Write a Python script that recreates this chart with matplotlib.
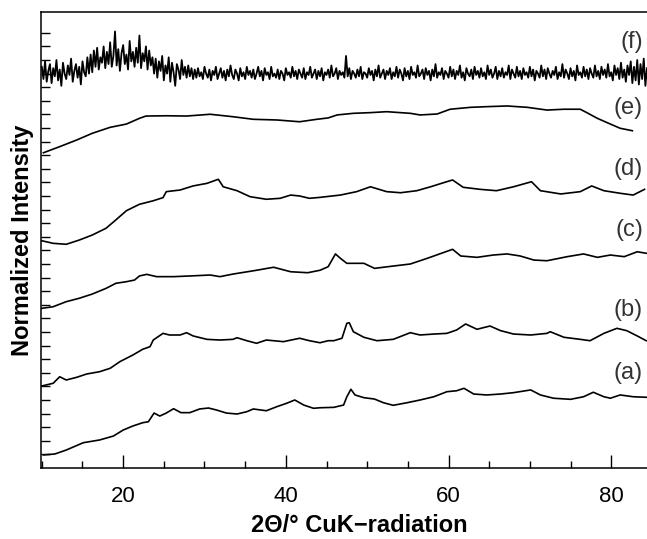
import numpy as np
import matplotlib
matplotlib.use("Agg")
import matplotlib.pyplot as plt
from matplotlib.ticker import MultipleLocator

plt.rcParams['font.family'] = ['Liberation Sans', 'DejaVu Sans']

# XRD patterns, already offset vertically (units = one y tick)
tt_a = [10.2, 11.6, 13.0, 15.1, 17.1, 18.8, 20.0, 21.2, 22.4, 23.1, 23.8, 24.5, 25.3, 26.2,
        27.1, 28.2, 29.4, 30.5, 31.5, 32.7, 34.0, 35.2, 36.0, 37.6, 38.9, 40.1, 41.1, 42.2,
        43.4, 44.2, 45.9, 47.1, 47.5, 48.0, 48.5, 49.6, 50.9, 52.0, 53.2, 54.9, 56.5, 58.2,
        59.8, 61.0, 61.9, 63.1, 64.7, 66.4, 68.0, 70.1, 71.3, 72.9, 75.0, 76.6, 77.8, 79.1,
        79.9, 81.1, 82.7, 84.3]
int_a = [0.96, 1.03, 1.32, 1.86, 2.06, 2.35, 2.79, 3.09, 3.33, 3.40, 4.04, 3.82, 4.04, 4.36,
         4.07, 4.07, 4.34, 4.41, 4.26, 4.04, 3.97, 4.14, 4.34, 4.21, 4.51, 4.76, 5.00, 4.63,
         4.39, 4.43, 4.46, 4.63, 5.24, 5.79, 5.37, 5.17, 5.07, 4.80, 4.61, 4.80, 5.00, 5.24,
         5.61, 5.68, 5.86, 5.44, 5.37, 5.44, 5.54, 5.74, 5.37, 5.13, 5.05, 5.24, 5.57, 5.24,
         5.13, 5.37, 5.24, 5.20]

tt_b = [10.0, 11.4, 12.2, 13.0, 14.3, 15.5, 17.1, 18.4, 19.6, 21.2, 22.4, 23.3, 23.7, 24.9,
        25.7, 27.0, 27.8, 28.6, 30.3, 31.9, 33.5, 34.0, 35.2, 36.4, 37.6, 39.7, 41.7, 42.9,
        44.2, 45.2, 45.9, 46.9, 47.5, 47.8, 48.3, 49.6, 51.2, 53.2, 55.3, 56.5, 58.2, 59.8,
        61.0, 62.1, 63.5, 65.1, 66.4, 68.0, 70.1, 72.1, 72.5, 74.2, 76.2, 77.4, 79.1, 80.7,
        81.9, 83.2, 84.3]
int_b = [6.03, 6.23, 6.71, 6.47, 6.67, 6.91, 7.08, 7.33, 7.82, 8.31, 8.73, 8.92, 9.41, 9.90,
         9.78, 9.78, 9.95, 9.71, 9.46, 9.41, 9.46, 9.58, 9.36, 9.17, 9.41, 9.29, 9.54, 9.36,
         9.21, 9.36, 9.36, 9.54, 10.64, 10.68, 10.02, 9.61, 9.36, 9.46, 9.95, 9.78, 9.85, 9.90,
         10.15, 10.59, 10.20, 10.44, 10.10, 9.85, 9.78, 9.90, 10.02, 9.61, 9.46, 9.36, 9.90, 10.27,
         10.10, 9.71, 9.36]

tt_c = [10.0, 11.4, 13.0, 14.6, 16.2, 17.9, 19.1, 20.4, 21.4, 22.0, 22.9, 24.1, 26.2, 28.2,
        30.7, 31.9, 33.5, 36.1, 38.5, 40.6, 42.7, 44.2, 45.2, 46.1, 46.7, 47.5, 49.6, 50.9,
        53.2, 55.3, 57.4, 58.9, 60.5, 61.5, 63.5, 65.5, 67.2, 68.8, 70.5, 72.1, 74.6, 76.6,
        78.3, 79.9, 81.6, 83.2, 84.3]
int_c = [11.74, 11.86, 12.23, 12.48, 12.79, 13.21, 13.58, 13.70, 13.82, 14.12, 14.24, 14.07, 14.07, 14.12,
         14.19, 14.07, 14.26, 14.51, 14.76, 14.43, 14.36, 14.54, 14.80, 15.74, 15.42, 15.05, 15.05, 14.68,
         14.85, 15.00, 15.42, 15.74, 16.08, 15.59, 15.49, 15.66, 15.74, 15.59, 15.29, 15.24, 15.54, 15.74,
         15.49, 15.66, 15.54, 15.90, 15.79]

tt_d = [10.0, 11.4, 13.0, 14.6, 16.2, 17.9, 19.1, 20.4, 22.0, 23.7, 24.9, 25.3, 27.0, 28.6,
        30.3, 31.7, 32.3, 34.0, 35.6, 37.6, 39.3, 40.6, 41.7, 42.9, 44.2, 46.7, 48.7, 50.4,
        52.4, 54.1, 56.1, 57.8, 59.4, 60.5, 61.8, 63.9, 65.9, 68.0, 70.2, 71.3, 73.8, 76.2,
        77.6, 79.1, 81.1, 82.7, 84.1]
int_d = [16.71, 16.52, 16.45, 16.76, 17.13, 17.63, 18.24, 18.92, 19.39, 19.65, 19.88, 20.32, 20.44, 20.74,
         20.93, 21.23, 20.68, 20.39, 19.95, 19.76, 19.83, 20.07, 20.00, 19.83, 19.90, 20.07, 20.32, 20.68,
         20.32, 20.24, 20.39, 20.68, 20.98, 21.18, 20.64, 20.49, 20.39, 20.68, 21.05, 20.39, 20.15, 20.32,
         20.74, 20.39, 20.20, 20.07, 20.49]

tt_e = [10.2, 12.2, 14.3, 16.2, 18.4, 20.4, 22.0, 22.8, 25.3, 27.8, 30.7, 33.5, 36.0, 38.9,
        41.7, 43.8, 45.2, 46.3, 48.3, 50.4, 52.4, 55.3, 56.5, 58.6, 60.2, 62.7, 64.7, 67.2,
        69.7, 72.1, 74.2, 76.2, 77.0, 78.3, 79.9, 81.1, 82.6]
int_e = [23.18, 23.63, 24.12, 24.61, 25.05, 25.29, 25.71, 25.88, 25.90, 25.88, 26.01, 25.83, 25.64, 25.59,
         25.46, 25.64, 25.74, 25.96, 26.08, 26.13, 26.20, 26.08, 25.96, 26.03, 26.38, 26.52, 26.57, 26.62,
         26.52, 26.32, 26.38, 26.38, 26.13, 25.71, 25.29, 24.98, 24.80]

# (f) is noisy, read every 0.2 deg starting at 10 deg
f_start, f_step = 10.0, 0.2
int_f = [
    # 10 - 15.8
    29.5, 28.6, 29.9, 28.4, 29.2, 29.7, 28.3, 29.4, 28.8, 30.0,
    28.5, 29.3, 28.1, 29.8, 29.0, 28.6, 29.6, 28.9, 30.1, 28.4,
    29.2, 29.7, 28.7, 29.5, 28.2, 29.9, 29.1, 28.8, 30.2, 29.0,
    # 16 - 23.8
    30.4, 29.1, 30.7, 29.5, 30.9, 29.3, 30.2, 29.8, 31.0, 29.4,
    30.6, 29.7, 31.3, 29.5, 30.3, 32.1, 29.6, 30.8, 29.2, 30.5,
    31.1, 29.7, 30.4, 29.3, 31.4, 29.9, 30.6, 29.5, 30.9, 29.8,
    31.8, 29.4, 30.5, 29.9, 31.0, 29.3, 30.7, 29.6, 30.2, 29.0,
    # 24 - 28.8
    30.1, 28.7, 29.9, 29.2, 30.3, 28.5, 29.6, 29.0, 30.2, 28.4,
    29.8, 29.1, 28.1, 29.7, 29.3, 28.6, 30.0, 28.9, 29.5, 28.7,
    29.6, 28.8, 29.4, 28.6, 29.3,
    # 29 - 84.4
    28.7, 29.4, 28.8, 29.1, 28.6, 29.5, 29.0, 28.7, 29.3, 28.5,
    29.2, 28.9, 29.5, 28.6, 29.0, 29.4, 28.7, 29.2, 28.5, 29.3,
    28.8, 29.6, 28.9, 28.6, 29.3, 29.0, 28.5, 29.4, 28.8, 29.1,
    28.6, 29.5, 28.9, 29.2, 28.7, 29.3, 28.6, 29.0, 29.5, 28.8,
    29.2, 28.5, 29.4, 28.9, 29.1, 28.6, 29.5, 28.8, 29.0, 28.7,
    29.3, 28.6, 29.2, 29.0, 28.5, 29.4, 28.9, 29.1, 28.7, 29.5,
    28.8, 29.2, 28.6, 29.3, 29.0, 28.7, 29.4, 28.6, 29.1, 28.9,
    29.5, 28.7, 29.0, 29.3, 28.6, 29.2, 28.8, 29.4, 28.5, 29.1,
    28.9, 29.3, 28.7, 29.6, 28.8, 29.0, 29.4, 28.6, 29.2, 28.9,
    29.1, 28.7, 30.3, 28.8, 29.4, 28.6, 29.2, 29.0, 28.7, 29.3,
    28.8, 29.5, 28.6, 29.1, 29.0, 28.7, 29.4, 28.9, 29.2, 28.5,
    29.3, 28.8, 29.6, 28.7, 29.0, 29.3, 28.6, 29.2, 28.9, 29.4,
    28.6, 29.1, 28.8, 29.5, 28.7, 29.3, 29.0, 28.5, 29.4, 28.8,
    29.2, 28.6, 29.5, 28.9, 29.1, 28.7, 29.6, 28.8, 29.0, 29.3,
    28.6, 29.4, 28.9, 29.2, 28.5, 29.3, 28.8, 29.7, 28.7, 29.1,
    28.9, 29.4, 28.6, 29.2, 29.0, 28.7, 29.5, 28.8, 29.3, 28.6,
    29.2, 28.9, 29.6, 28.7, 29.1, 28.5, 29.4, 29.0, 28.8, 29.3,
    28.6, 29.5, 28.9, 29.2, 28.7, 29.4, 28.8, 29.1, 28.6, 29.6,
    28.9, 29.3, 28.7, 29.0, 29.5, 28.6, 29.2, 28.8, 29.4, 28.7,
    29.1, 28.9, 29.6, 28.6, 29.3, 29.0, 28.7, 29.5, 28.8, 29.2,
    28.6, 29.4, 28.9, 29.1, 28.7, 29.5, 28.8, 29.3, 28.5, 29.2,
    29.0, 28.7, 29.6, 28.8, 29.3, 28.6, 29.4, 29.0, 28.7, 29.2,
    28.9, 29.5, 28.6, 29.1, 28.8, 29.7, 28.7, 29.3, 29.0, 28.6,
    29.4, 28.8, 29.2, 28.5, 29.6, 28.9, 29.1, 28.7, 29.5, 28.8,
    29.3, 28.6, 29.4, 29.0, 28.7, 29.6, 28.8, 29.2, 28.6, 29.5,
    28.9, 29.3, 28.7, 29.7, 28.8, 29.1, 28.5, 29.6, 28.9, 29.4,
    28.6, 29.8, 28.7, 29.3, 28.4, 29.6, 28.9, 29.9, 28.3, 29.5,
    28.5, 30.0, 28.2, 29.7, 28.6, 30.1, 28.1, 29.4,
]

labels = ['(a)', '(b)', '(c)', '(d)', '(e)', '(f)']
label_y = [7.0, 11.6, 17.5, 22.0, 26.5, 31.3]


def main():
    fig = plt.figure(figsize=(6.47, 5.39), dpi=100)
    ax = fig.add_axes([41 / 647, 71 / 539, 606 / 647, 456 / 539])

    lw = 1.2
    for tt, inten in [(tt_a, int_a), (tt_b, int_b), (tt_c, int_c), (tt_d, int_d), (tt_e, int_e)]:
        ax.plot(tt, inten, color='black', lw=lw)

    # noisy pattern: plain zigzag gives the dense band look
    tt_f = f_start + f_step * np.arange(len(int_f))
    ax.plot(tt_f, int_f, color='black', lw=1.3)

    for lab, yy in zip(labels, label_y):
        ax.text(83.9, yy, lab, ha='right', va='center', fontsize=17, color='#333333')

    ax.set_xlim(9.9, 84.4)
    ax.set_ylim(0, 33.53)

    ax.xaxis.set_major_locator(MultipleLocator(20))
    ax.xaxis.set_minor_locator(MultipleLocator(5))
    ax.set_yticks(np.arange(1, 33))
    ax.set_yticklabels([])

    ax.tick_params(axis='x', which='major', direction='in', length=9.5, width=1.0,
                   labelsize=16, pad=13, top=False)
    ax.tick_params(axis='x', which='minor', direction='in', length=5, width=1.0, top=False)
    ax.tick_params(axis='y', which='major', direction='in', length=6.5, width=1.0, right=False)

    for side in ['left', 'bottom', 'top']:
        ax.spines[side].set_linewidth(1.1)
    ax.spines['right'].set_visible(False)

    ax.set_xlabel('2Θ/° CuK−radiation', fontsize=17, fontweight='bold')
    ax.xaxis.set_label_coords(0.525, -0.10)
    ax.set_ylabel('Normalized Intensity', fontsize=17, fontweight='bold')
    ax.yaxis.set_label_coords(-0.012, 0.5)

    fig.savefig('out.png', dpi=100)


if __name__ == "__main__":
    main()
